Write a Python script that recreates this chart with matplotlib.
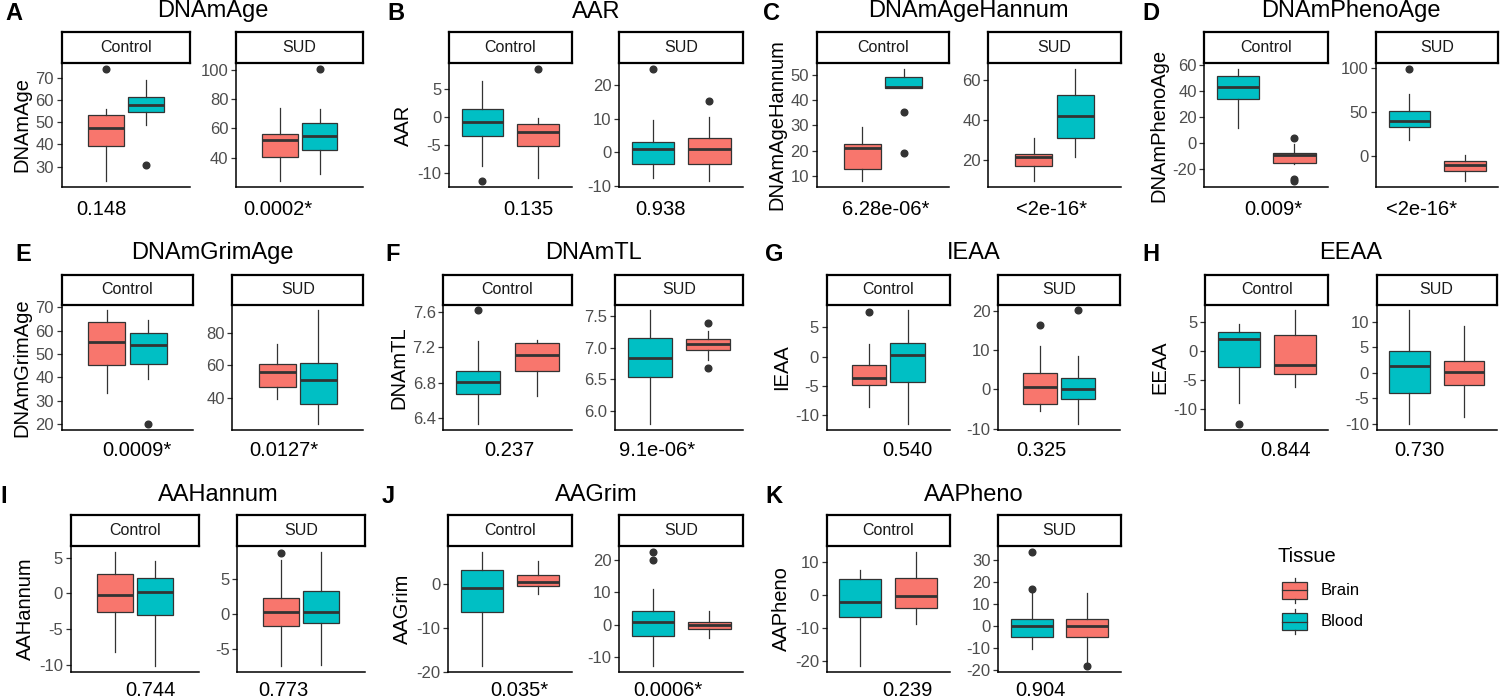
import matplotlib
matplotlib.use("Agg")
import matplotlib.pyplot as plt
from matplotlib.patches import Rectangle

plt.rcParams['font.family'] = ['Liberation Sans', 'DejaVu Sans']

# colores de ggplot
col = {'Brain': '#F8766D', 'Blood': '#00BFC4'}
gris = '#333333'

# ---------------- datos ----------------
panels = ['DNAmAge', 'AAR', 'DNAmAgeHannum', 'DNAmPhenoAge', 'DNAmGrimAge', 'DNAmTL',
          'IEAA', 'EEAA', 'AAHannum', 'AAGrim', 'AAPheno']
letters = ['A', 'B', 'C', 'D', 'E', 'F', 'G', 'H', 'I', 'J', 'K']
groups = ['Control', 'SUD']

# tejido de la caja izquierda y derecha en cada panel
order = [['Brain', 'Blood'], ['Blood', 'Brain'], ['Brain', 'Blood'], ['Blood', 'Brain'],
         ['Brain', 'Blood'], ['Blood', 'Brain'], ['Brain', 'Blood'], ['Blood', 'Brain'],
         ['Brain', 'Blood'], ['Blood', 'Brain'], ['Blood', 'Brain']]

# (bigote inferior, Q1, mediana, Q3, bigote superior); [Control, SUD] x [caja izq, caja der]
dnamage = [[(23.5, 39.4, 47.2, 53.2, 56.0), (48.6, 54.5, 57.5, 61.2, 69.1)],
           [(23.9, 40.7, 51.7, 55.9, 74.0), (28.7, 45.3, 54.5, 63.4, 73.3)]]
aar = [[(-8.8, -3.4, -0.95, 1.4, 6.4), (-10.9, -5.3, -2.7, -1.4, -0.3)],
       [(-7.8, -3.4, 1.0, 3.1, 9.6), (-8.6, -3.4, 1.0, 4.2, 10.5)]]
hannum = [[(8.0, 12.6, 21.1, 22.6, 29.2), (44.6, 44.6, 45.0, 49.3, 52.3)],
          [(9.4, 16.8, 21.4, 23.0, 30.8), (21.4, 30.8, 42.3, 52.4, 65.7)]]
pheno = [[(12.1, 33.8, 43.6, 51.5, 57.2), (-15.6, -15.1, -9.2, -7.7, -0.3)],
         [(17.5, 32.3, 39.2, 51.0, 70.3), (-28.5, -16.7, -9.9, -5.3, 0.8)]]
grim = [[(33.4, 45.3, 55.0, 63.8, 68.7), (39.1, 45.7, 53.8, 59.0, 64.5)],
        [(39.4, 46.7, 55.9, 60.5, 73.3), (23.7, 36.1, 50.9, 61.6, 93.8)]]
tl = [[(6.33, 6.67, 6.81, 6.93, 7.27), (6.65, 6.93, 7.11, 7.25, 7.28)],
      [(5.79, 6.53, 6.83, 7.16, 7.59), (6.80, 6.97, 7.06, 7.13, 7.27)]]
ieaa = [[(-8.6, -4.9, -3.7, -1.5, 2.1), (-11.5, -4.4, 0.25, 2.3, 7.9)],
        [(-5.5, -3.7, 0.6, 4.2, 11.1), (-8.8, -2.5, 0.0, 2.8, 8.4)]]
eeaa = [[(-8.9, -2.8, 2.0, 3.2, 4.6), (-6.2, -4.0, -2.4, 2.8, 7.0)],
        [(-10.1, -3.9, 1.3, 4.2, 12.3), (-8.7, -2.5, 0.1, 2.3, 9.2)]]
aahannum = [[(-8.2, -2.6, -0.2, 2.7, 5.85), (-10.2, -3.1, 0.2, 2.1, 4.5)],
            [(-7.5, -1.8, 0.3, 2.2, 7.7), (-7.3, -1.4, 0.3, 3.2, 8.9)]]
aagrim = [[(-18.7, -6.5, -0.9, 3.1, 7.3), (-2.4, -0.4, 0.5, 1.9, 5.1)],
          [(-12.7, -3.5, 0.8, 4.3, 11.0), (-4.1, -1.2, -0.2, 1.0, 4.1)]]
aapheno = [[(-21.4, -6.5, -2.0, 4.9, 7.65), (-8.7, -4.0, -0.2, 5.3, 13.1)],
           [(-10.1, -4.9, 0.2, 3.4, 15.2), (-16.5, -4.9, 0.2, 3.4, 15.2)]]
cajas = [dnamage, aar, hannum, pheno, grim, tl, ieaa, eeaa, aahannum, aagrim, aapheno]

# valores atipicos
outliers = [[[[73.9], [30.6]], [[], [100.7]]],
            [[[-11.5], [8.5]], [[24.9], [15.4]]],
            [[[], [35.2, 19.1]], [[], []]],
            [[[], [4.1, -27.7, -29.0]], [[98.5], []]],
            [[[], [20.0]], [[], []]],
            [[[7.62], []], [[], [7.39, 6.67]]],
            [[[7.6], []], [[16.5], [20.1]]],
            [[[-12.6], []], [[], []]],
            [[[], []], [[8.7], []]],
            [[[], []], [[22.5, 20.0], []]],
            [[[], []], [[33.8, 16.7], [-18.0]]]]

yticks = [[[30, 40, 50, 60, 70], [20, 40, 60, 80, 100]],
          [[-10, -5, 0, 5], [-10, 0, 10, 20]],
          [[10, 20, 30, 40, 50], [20, 40, 60]],
          [[-20, 0, 20, 40, 60], [0, 50, 100]],
          [[20, 30, 40, 50, 60, 70], [20, 40, 60, 80]],
          [[6.4, 6.8, 7.2, 7.6], [6.0, 6.5, 7.0, 7.5]],
          [[-10, -5, 0, 5], [-10, 0, 10, 20]],
          [[-10, -5, 0, 5], [-10, -5, 0, 5, 10]],
          [[-10, -5, 0, 5], [-5, 0, 5]],
          [[-20, -10, 0], [-10, 0, 10, 20]],
          [[-20, -10, 0, 10], [-20, -10, 0, 10, 20, 30]]]
ytick_fmt = ['%d', '%d', '%d', '%d', '%d', '%.1f', '%d', '%d', '%d', '%d', '%d']

pvals = [['0.148', '0.0002*'], ['0.135', '0.938'], ['6.28e-06*', '<2e-16*'],
         ['0.009*', '<2e-16*'], ['0.0009*', '0.0127*'], ['0.237', '9.1e-06*'],
         ['0.540', '0.325'], ['0.844', '0.730'], ['0.744', '0.773'],
         ['0.035*', '0.0006*'], ['0.239', '0.904']]

# ---------------- disposicion (pixeles) ----------------
W, H = 1500, 699
facet_x = [((61.7, 190), (236, 363.3)), ((449, 571.7), (619, 743.3)),
           ((816.7, 949.3), (988.3, 1120.7)), ((1204.3, 1328.3), (1376, 1498.3)),
           ((61.7, 193.3), (232.3, 363.3)), ((443.3, 571.7), (615, 743.3)),
           ((826.7, 950), (998.3, 1120)), ((1205, 1328.3), (1376.7, 1496.7)),
           ((70.7, 199.3), (237.3, 365)), ((448.3, 571.7), (619.3, 743.3)),
           ((826.7, 950), (998.3, 1120.7))]
rows_y = [(32.3, 63.3, 186.7), (274.7, 304.7, 429.7), (515.3, 546, 671.7)]
title_base = [17.5, 259, 501]
pval_base = [215, 456, 696]
letter_x = [5, 387, 763, 1142, 15, 385, 765, 1142, 0, 382, 765]
pval_frac = [(0.31, 0.33), (0.65, 0.336), (0.52, 0.48), (0.556, 0.37), (0.573, 0.39),
             (0.513, 0.33), (0.655, 0.35), (0.655, 0.354), (0.62, 0.36), (0.575, 0.395),
             (0.655, 0.348)]


def px_axes(fig, x0, x1, y0, y1):
    return fig.add_axes([x0 / W, 1 - y1 / H, (x1 - x0) / W, (y1 - y0) / H])


fig = plt.figure(figsize=(15, 6.99), dpi=100)
over = fig.add_axes([0, 0, 1, 1])
over.set_xlim(0, W)
over.set_ylim(H, 0)
over.axis('off')

for p in range(len(panels)):
    row = p // 4
    s_top, a_top, a_bot = rows_y[row]
    dodged = order[p][0] == 'Brain'
    if dodged:
        pos, wid, xl = [0.8125, 1.1875], 0.3375, (0.4, 1.6)
    else:
        pos, wid, xl = [1, 2], 0.75, (0.4, 2.6)

    for g in range(2):
        x0, x1 = facet_x[p][g]
        ax = px_axes(fig, x0, x1, a_top, a_bot)
        stats = []
        vals = []
        for b in range(2):
            lo, q1, med, q3, hi = cajas[p][g][b]
            fl = outliers[p][g][b]
            stats.append({'whislo': lo, 'q1': q1, 'med': med, 'q3': q3,
                          'whishi': hi, 'fliers': fl})
            vals += [lo, hi] + fl
        bp = ax.bxp(stats, positions=pos, widths=wid, patch_artist=True,
                    showcaps=False,
                    boxprops=dict(edgecolor=gris, linewidth=0.9),
                    whiskerprops=dict(color=gris, linewidth=0.9),
                    medianprops=dict(color=gris, linewidth=2.0),
                    flierprops=dict(marker='o', markerfacecolor=gris,
                                    markeredgecolor=gris, markersize=4.8,
                                    linestyle='none'))
        for b, box in enumerate(bp['boxes']):
            box.set_facecolor(col[order[p][b]])

        lo, hi = min(vals), max(vals)
        pad = 0.05 * (hi - lo)
        ax.set_ylim(lo - pad, hi + pad)
        ax.set_yticks(yticks[p][g])
        ax.set_yticklabels([ytick_fmt[p] % t for t in yticks[p][g]])
        ax.set_ylim(lo - pad, hi + pad)
        ax.set_xlim(*xl)
        ax.set_xticks([])
        for sp in ['top', 'right']:
            ax.spines[sp].set_visible(False)
        for sp in ['left', 'bottom']:
            ax.spines[sp].set_linewidth(1.1)
            ax.spines[sp].set_color('black')
        ax.tick_params(axis='y', labelsize=12, labelcolor='#4D4D4D', color=gris,
                       length=3.5, width=0.9, pad=2)
        if g == 0:
            ax.set_ylabel(panels[p], fontsize=14.5, labelpad=3)

        # tira del facet
        st = px_axes(fig, x0, x1, s_top, a_top)
        st.set_xticks([])
        st.set_yticks([])
        for sp in st.spines.values():
            sp.set_linewidth(1.6)
            sp.set_color('black')
        st.text(0.5, 0.5, groups[g], ha='center', va='center', fontsize=11.5,
                color='#1A1A1A', transform=st.transAxes)

        # valor p debajo del facet
        over.text(x0 + pval_frac[p][g] * (x1 - x0), pval_base[row], pvals[p][g],
                  ha='center', va='baseline', fontsize=14.5, color='black')

    cx = (facet_x[p][0][0] + facet_x[p][1][1]) / 2
    over.text(cx, title_base[row], panels[p], ha='center', va='baseline',
              fontsize=17, color='black')
    over.text(letter_x[p], title_base[row] + 2, letters[p], ha='left', va='baseline',
              fontsize=17, fontweight='bold', color='black')

# leyenda
over.text(1277.7, 562.5, 'Tissue', ha='left', va='baseline', fontsize=14.5)
for i, t in enumerate(['Brain', 'Blood']):
    ytop = 581.7 + i * 31.6
    over.add_patch(Rectangle((1281.7, ytop), 25.6, 17, facecolor=col[t],
                             edgecolor=gris, linewidth=0.9))
    over.plot([1281.7, 1307.3], [ytop + 8.5, ytop + 8.5], color=gris, lw=0.9)
    over.plot([1294.5, 1294.5], [ytop - 4, ytop], color=gris, lw=0.9)
    over.plot([1294.5, 1294.5], [ytop + 17, ytop + 21], color=gris, lw=0.9)
    over.text(1321, ytop + 8.5, t, ha='left', va='center', fontsize=12)

fig.savefig('out.png', dpi=100)
